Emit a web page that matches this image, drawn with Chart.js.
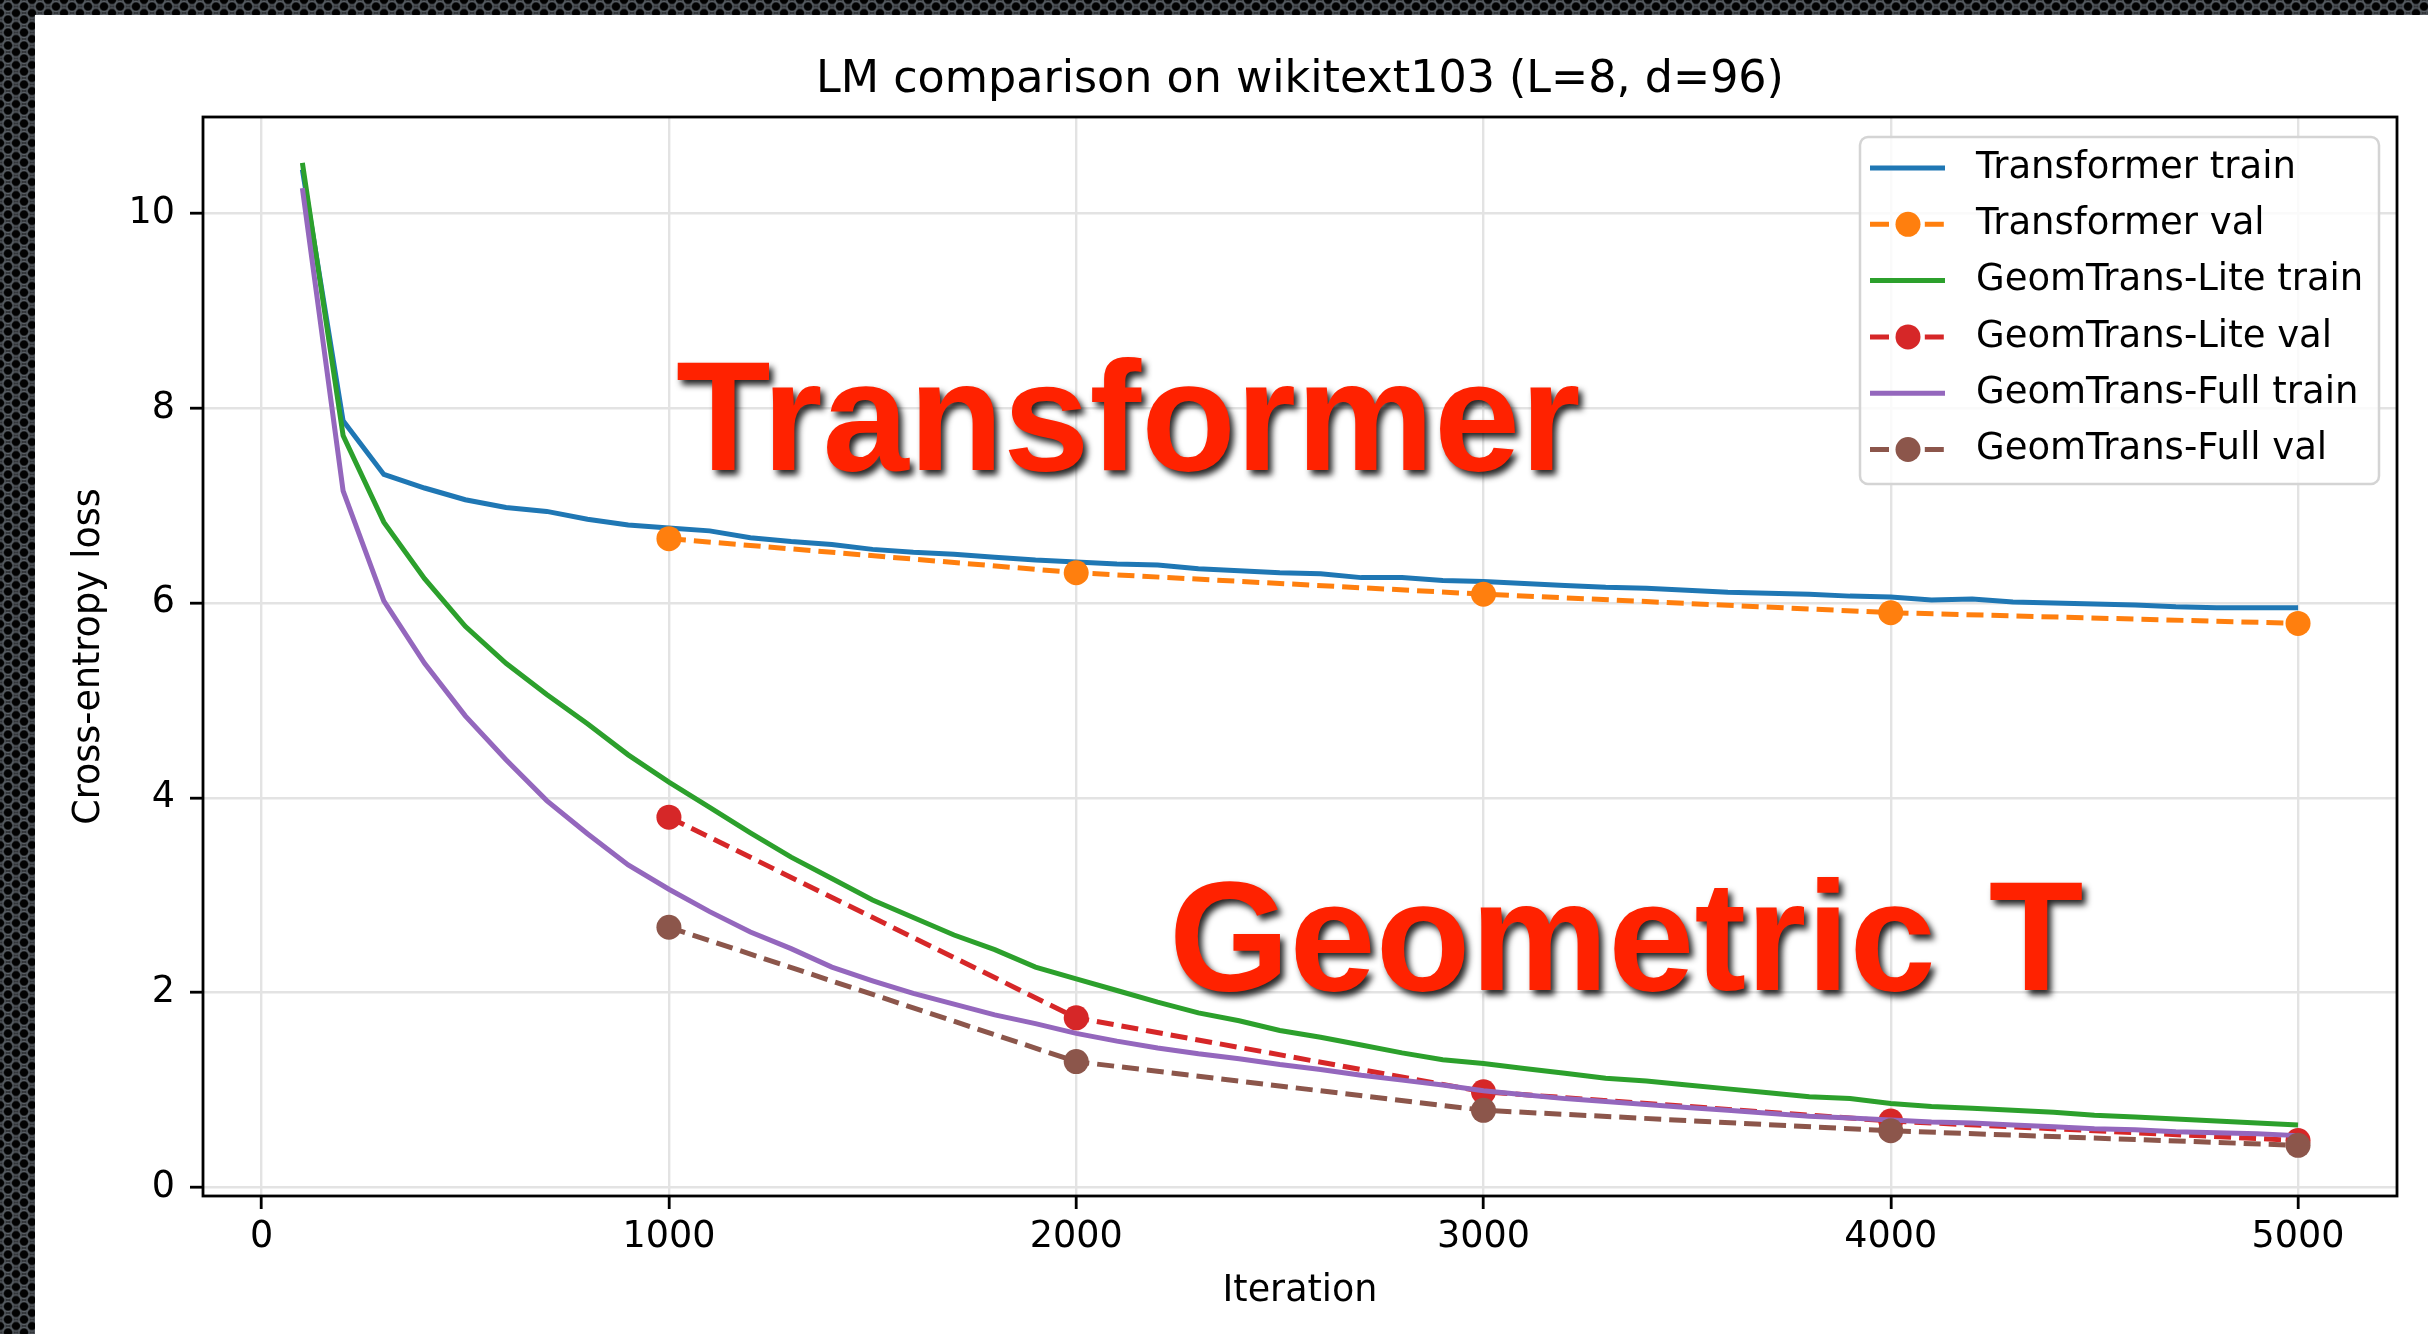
<!DOCTYPE html>
<html>
<head>
<meta charset="utf-8">
<title>LM comparison on wikitext103</title>
<script src="https://cdn.jsdelivr.net/npm/chart.js@4.4.1/dist/chart.umd.min.js"></script>
<style>
    html, body { margin: 0; padding: 0; }
    body {
        width: 2428px;
        height: 1334px;
        overflow: hidden;
        position: relative;
        background-color: #26282b;
        background-image:
            radial-gradient(circle, #020202 0, #020202 3.5px, #5a6066 5px, transparent 6.5px),
            radial-gradient(circle, #020202 0, #020202 3.5px, #5a6066 5px, transparent 6.5px);
        background-size: 16px 13px;
        background-position: 0 0, 8px 6.5px;
    }
    #panel {
        position: absolute;
        left: 35px;
        top: 15px;
        width: 2393px;
        height: 1319px;
        background: #fff;
    }
    #lossChart { position: absolute; left: 0; top: 0; }
    .stamp {
        position: absolute;
        font-family: "Liberation Sans", Arial, sans-serif;
        font-weight: bold;
        font-size: 155px;
        line-height: 155px;
        color: #ff2200;
        text-shadow: 4px 5px 6px rgba(0, 0, 0, 0.85);
        white-space: nowrap;
    }
</style>
</head>
<body>
<div id="panel">
    <canvas id="lossChart" width="2393" height="1319"></canvas>
    <div class="stamp" style="left:641px; top:324px;">Transformer</div>
    <div class="stamp" style="left:1134px; top:844px; word-spacing:10px;">Geometric T</div>
</div>
<script>
// Data
const chartTitle = 'LM comparison on wikitext103 (L=8, d=96)';

const trainIters = [100, 200, 300, 400, 500, 600, 700, 800, 900, 1000,
    1100, 1200, 1300, 1400, 1500, 1600, 1700, 1800, 1900, 2000,
    2100, 2200, 2300, 2400, 2500, 2600, 2700, 2800, 2900, 3000,
    3100, 3200, 3300, 3400, 3500, 3600, 3700, 3800, 3900, 4000,
    4100, 4200, 4300, 4400, 4500, 4600, 4700, 4800, 4900, 5000];
const valIters = [1000, 2000, 3000, 4000, 5000];

const transformerTrain = [10.45, 7.87, 7.32, 7.18, 7.06, 6.98, 6.94, 6.86, 6.80, 6.77,
    6.74, 6.67, 6.63, 6.60, 6.55, 6.52, 6.50, 6.47, 6.44, 6.42,
    6.40, 6.39, 6.35, 6.33, 6.31, 6.30, 6.26, 6.26, 6.23, 6.22,
    6.20, 6.18, 6.16, 6.15, 6.13, 6.11, 6.10, 6.09, 6.07, 6.06,
    6.03, 6.04, 6.01, 6.00, 5.99, 5.98, 5.96, 5.95, 5.95, 5.95];
const transformerVal = [6.66, 6.31, 6.09, 5.90, 5.79];

const liteTrain = [10.52, 7.72, 6.83, 6.25, 5.76, 5.38, 5.06, 4.76, 4.44, 4.16,
    3.90, 3.64, 3.39, 3.17, 2.95, 2.77, 2.59, 2.44, 2.26, 2.14,
    2.02, 1.90, 1.79, 1.71, 1.61, 1.54, 1.46, 1.38, 1.31, 1.27,
    1.22, 1.17, 1.12, 1.09, 1.05, 1.01, 0.97, 0.93, 0.91, 0.86,
    0.83, 0.81, 0.79, 0.77, 0.74, 0.72, 0.70, 0.68, 0.66, 0.64];
const liteVal = [3.80, 1.74, 0.98, 0.68, 0.48];

const fullTrain = [10.26, 7.15, 6.02, 5.38, 4.84, 4.39, 3.97, 3.63, 3.31, 3.06,
    2.83, 2.62, 2.45, 2.26, 2.12, 1.99, 1.88, 1.77, 1.68, 1.58,
    1.50, 1.43, 1.37, 1.32, 1.26, 1.21, 1.15, 1.10, 1.05, 0.99,
    0.95, 0.91, 0.88, 0.85, 0.82, 0.79, 0.76, 0.73, 0.71, 0.69,
    0.67, 0.66, 0.64, 0.62, 0.60, 0.59, 0.57, 0.56, 0.55, 0.53];
const fullVal = [2.67, 1.29, 0.79, 0.58, 0.43];

const xTicks = [0, 1000, 2000, 3000, 4000, 5000];
const yTicks = [0, 2, 4, 6, 8, 10];

const FONT = 'DejaVu Sans';

// Build one line dataset from x and y arrays
function makeSeries(label, xs, ys, color, dashed, order) {
    return {
        label: label,
        data: xs.map((x, i) => ({ x: x, y: ys[i] })),
        borderColor: color,
        backgroundColor: color,
        borderWidth: 5,
        borderDash: dashed ? [17, 8] : [],
        pointRadius: dashed ? 12.5 : 0,
        pointBorderWidth: 0,
        pointBackgroundColor: color,
        tension: 0,
        fill: false,
        order: order
    };
}

// Main title, centred on the axes like matplotlib
const titlePlugin = {
    id: 'mplTitle',
    afterDraw(chart) {
        const ctx = chart.ctx;
        const area = chart.chartArea;
        ctx.save();
        ctx.font = '44.4px "' + FONT + '"';
        ctx.fillStyle = '#000';
        ctx.textAlign = 'center';
        ctx.textBaseline = 'alphabetic';
        ctx.fillText(chartTitle, (area.left + area.right) / 2, area.top - 25);
        ctx.restore();
    }
};

// Four spines on top of the lines
const framePlugin = {
    id: 'mplFrame',
    afterDraw(chart) {
        const ctx = chart.ctx;
        const a = chart.chartArea;
        ctx.save();
        ctx.strokeStyle = '#000';
        ctx.lineWidth = 2.8;
        ctx.strokeRect(a.left, a.top, a.right - a.left, a.bottom - a.top);
        ctx.restore();
    }
};

// Legend in the upper right, line + marker samples
const legendPlugin = {
    id: 'mplLegend',
    afterDraw(chart) {
        const ctx = chart.ctx;
        const area = chart.chartArea;
        const boxW = 519, boxH = 347;
        const x0 = area.right - 18 - boxW;
        const y0 = area.top + 20;
        ctx.save();
        ctx.beginPath();
        ctx.roundRect(x0, y0, boxW, boxH, 8);
        ctx.fillStyle = 'rgba(255,255,255,0.8)';
        ctx.fill();
        ctx.strokeStyle = '#d4d4d4';
        ctx.lineWidth = 2.5;
        ctx.stroke();

        chart.data.datasets.forEach((ds, i) => {
            const cy = y0 + 31 + i * 56.3;
            ctx.strokeStyle = ds.borderColor;
            ctx.lineWidth = ds.borderWidth;
            ctx.setLineDash(ds.borderDash.length ? [19, 8.4] : []);
            ctx.beginPath();
            ctx.moveTo(x0 + 10, cy);
            ctx.lineTo(x0 + 85, cy);
            ctx.stroke();
            ctx.setLineDash([]);
            if (ds.pointRadius > 0) {
                ctx.beginPath();
                ctx.arc(x0 + 48, cy, ds.pointRadius, 0, Math.PI * 2);
                ctx.fillStyle = ds.pointBackgroundColor;
                ctx.fill();
            }
            ctx.fillStyle = '#000';
            ctx.font = '37px "' + FONT + '"';
            ctx.textAlign = 'left';
            ctx.textBaseline = 'middle';
            ctx.fillText(ds.label, x0 + 116, cy);
        });
        ctx.restore();
    }
};

document.addEventListener('DOMContentLoaded', function() {
    const ctx = document.getElementById('lossChart').getContext('2d');
    new Chart(ctx, {
        type: 'line',
        data: {
            datasets: [
                makeSeries('Transformer train', trainIters, transformerTrain, '#1f77b4', false, 6),
                makeSeries('Transformer val', valIters, transformerVal, '#ff7f0e', true, 5),
                makeSeries('GeomTrans-Lite train', trainIters, liteTrain, '#2ca02c', false, 4),
                makeSeries('GeomTrans-Lite val', valIters, liteVal, '#d62728', true, 3),
                makeSeries('GeomTrans-Full train', trainIters, fullTrain, '#9467bd', false, 2),
                makeSeries('GeomTrans-Full val', valIters, fullVal, '#8c564b', true, 1)
            ]
        },
        options: {
            responsive: false,
            animation: false,
            layout: { padding: { top: 102, right: 31, left: 0, bottom: 0 } },
            plugins: {
                legend: { display: false },
                title: { display: false },
                tooltip: { enabled: false }
            },
            scales: {
                x: {
                    type: 'linear',
                    min: -144,
                    max: 5243,
                    afterBuildTicks: function(scale) {
                        scale.ticks = xTicks.map(v => ({ value: v }));
                    },
                    afterFit: function(scale) { scale.height = 138; },
                    border: { display: false },
                    grid: {
                        color: '#e3e3e3',
                        lineWidth: 2.4,
                        tickColor: '#000',
                        tickWidth: 2.8,
                        tickLength: 13
                    },
                    ticks: {
                        color: '#000',
                        font: { family: FONT, size: 36.5 },
                        padding: 7,
                        maxRotation: 0,
                        autoSkip: false,
                        callback: function(value) { return String(value); }
                    },
                    title: {
                        display: true,
                        text: 'Iteration',
                        color: '#000',
                        font: { family: FONT, size: 36.5 },
                        padding: { top: 0, bottom: 21 }
                    }
                },
                y: {
                    type: 'linear',
                    min: -0.09,
                    max: 10.99,
                    afterBuildTicks: function(scale) {
                        scale.ticks = yTicks.map(v => ({ value: v }));
                    },
                    afterFit: function(scale) { scale.width = 168; },
                    border: { display: false },
                    grid: {
                        color: '#e3e3e3',
                        lineWidth: 2.4,
                        tickColor: '#000',
                        tickWidth: 2.8,
                        tickLength: 13
                    },
                    ticks: {
                        color: '#000',
                        font: { family: FONT, size: 36.5 },
                        padding: 15,
                        callback: function(value) { return String(value); }
                    },
                    title: {
                        display: true,
                        text: 'Cross-entropy loss',
                        color: '#000',
                        font: { family: FONT, size: 36.5 },
                        padding: { top: 33, bottom: 0 }
                    }
                }
            }
        },
        plugins: [titlePlugin, framePlugin, legendPlugin]
    });
});
</script>
</body>
</html>
